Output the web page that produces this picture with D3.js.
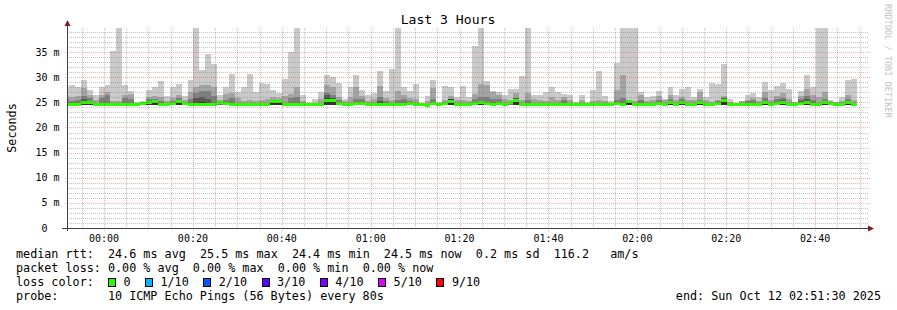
<!DOCTYPE html>
<html>
<head>
<meta charset="utf-8">
<script src="https://cdn.jsdelivr.net/npm/d3@7"></script>
<style>
  html, body { margin: 0; padding: 0; background: #fff; }
  svg text { font-family: "DejaVu Sans Mono", monospace; fill: #000; }
</style>
</head>
<body>
<div id="chart"></div>
<script>
// smokeping style "Last 3 Hours" graph, values in ms

var titleText = "Last 3 Hours";
var yAxisLabel = "Seconds";
var watermark = "RRDTOOL / TOBI OETIKER";

// time window and the 80s rrd steps
var viewStart = new Date(2025, 9, 11, 23, 51, 40);
var viewEnd   = new Date(2025, 9, 12, 2, 51, 40);
var firstStep = new Date(2025, 9, 11, 23, 50, 47);
var stepSeconds = 80;
var yMax = 39.8;
var smokeFloor = 24.4;

// median rtt per step
var medianRtt = [
  24.6, 24.6, 24.6, 25.0, 25.0, 24.6, 24.6, 24.5, 24.6, 24.6,
  24.6, 24.6, 24.6, 24.7, 24.9, 25.1, 24.6, 24.5, 24.7, 25.1,
  24.8, 24.6, 24.5, 24.6, 24.5, 24.6, 25.0, 24.7, 24.6, 24.6,
  24.6, 24.5, 24.5, 24.6, 24.6, 25.2, 25.2, 24.5, 24.6, 24.6,
  24.6, 24.5, 24.5, 24.6, 25.4, 25.4, 24.7, 24.6, 24.6, 24.8,
  24.8, 24.6, 24.6, 24.6, 24.5, 24.6, 24.6, 24.5, 24.7, 24.5,
  24.5, 24.4, 24.7, 24.6, 24.7, 25.2, 24.6, 24.5, 24.6, 24.8,
  25.0, 24.7, 24.6, 24.7, 24.6, 24.9, 25.3, 24.6, 24.6, 24.6,
  24.5, 24.5, 24.5, 24.6, 24.6, 24.6, 24.5, 24.5, 24.6, 24.6,
  24.6, 24.6, 24.6, 24.7, 24.6, 25.1, 24.6, 24.6, 24.5, 24.6,
  24.7, 24.6, 24.9, 24.5, 24.9, 24.6, 24.6, 25.0, 24.6, 24.5,
  24.7, 25.4, 24.5, 24.5, 24.5, 24.6, 24.6, 24.6, 25.0, 24.6,
  24.7, 25.0, 24.6, 24.6, 24.8, 24.9, 24.6, 24.5, 25.0, 24.7,
  24.6, 24.6, 24.9, 24.6
];

// highest ping of 10 (lightest smoke)
var maxRtt = [
  28.0, 28.5, 28.0, 29.5, 27.4, 26.5, 28.0, 28.5, 35.3, 39.8,
  28.5, 27.3, 25.1, 25.3, 27.5, 28.1, 29.3, 26.2, 28.0, 28.7,
  26.2, 29.5, 39.8, 31.4, 34.6, 32.6, 26.4, 28.0, 30.6, 27.0,
  28.1, 30.6, 27.0, 28.9, 28.7, 27.5, 26.9, 29.6, 35.1, 39.8,
  26.5, 24.9, 25.7, 27.0, 30.5, 30.0, 28.9, 25.7, 28.0, 30.4,
  27.5, 26.4, 26.9, 31.2, 27.2, 31.6, 39.8, 28.0, 27.3, 28.7,
  24.8, 26.3, 29.5, 25.1, 28.3, 28.0, 26.0, 28.3, 26.0, 36.3,
  39.8, 29.3, 27.3, 27.0, 26.4, 27.6, 27.6, 30.3, 39.8, 26.5,
  26.4, 27.0, 28.0, 27.0, 26.7, 26.4, 25.1, 26.4, 25.1, 27.5,
  31.3, 26.2, 25.3, 32.8, 39.8, 39.8, 39.8, 27.0, 26.1, 26.2,
  27.3, 25.7, 28.0, 26.5, 27.6, 28.1, 26.0, 27.6, 26.0, 28.8,
  28.7, 32.6, 25.7, 24.8, 25.0, 26.4, 26.9, 26.0, 29.1, 27.5,
  28.3, 28.8, 27.6, 24.9, 27.2, 30.4, 28.0, 39.8, 39.8, 25.4,
  25.1, 26.0, 29.5, 29.6
];

// 9th ping
var ping9 = [
  26.3, 26.0, 26.3, 27.8, 26.5, 25.5, 26.4, 27.0, 25.3, 25.3,
  26.5, 26.6, 24.9, 25.0, 26.1, 26.3, 26.0, 25.2, 25.8, 26.4,
  25.5, 27.0, 28.0, 28.5, 28.5, 28.0, 25.5, 26.6, 26.8, 25.8,
  25.3, 25.4, 25.3, 25.5, 25.6, 26.0, 25.9, 26.2, 26.7, 28.0,
  25.3, 24.9, 24.9, 25.6, 28.5, 28.0, 26.0, 25.2, 26.0, 28.0,
  26.3, 25.3, 25.6, 28.3, 25.8, 25.5, 27.3, 26.5, 25.8, 25.7,
  24.9, 25.3, 27.8, 24.9, 25.4, 26.2, 25.4, 25.5, 25.3, 26.6,
  28.7, 28.4, 27.0, 26.5, 25.6, 25.5, 26.9, 25.5, 26.9, 25.7,
  25.5, 25.3, 26.0, 25.4, 26.0, 25.5, 24.9, 25.4, 24.9, 25.2,
  25.4, 25.3, 24.9, 27.5, 30.5, 25.4, 25.3, 26.5, 25.3, 25.5,
  26.2, 25.4, 26.5, 25.5, 26.0, 25.4, 25.5, 27.0, 25.4, 25.1,
  25.5, 26.2, 25.0, 24.8, 25.2, 25.5, 25.8, 25.2, 27.0, 25.5,
  26.2, 26.9, 25.6, 25.0, 26.2, 27.6, 26.5, 26.0, 27.0, 25.2,
  25.1, 25.3, 26.5, 25.5
];

// 8th ping
var ping8 = [
  25.6, 25.3, 25.5, 26.3, 25.8, 24.7, 25.8, 26.5, 24.7, 24.7,
  25.8, 25.6, 24.7, 24.7, 25.6, 25.7, 25.3, 24.6, 25.3, 25.8,
  25.0, 25.7, 26.8, 27.3, 27.3, 26.2, 25.2, 25.5, 25.8, 24.7,
  24.7, 24.6, 24.6, 24.7, 24.7, 25.5, 25.4, 24.6, 25.8, 26.0,
  24.7, 24.6, 24.6, 24.7, 26.9, 26.5, 25.4, 24.7, 24.7, 25.7,
  25.6, 24.7, 24.7, 26.0, 25.3, 24.7, 25.5, 25.6, 25.3, 24.6,
  24.6, 24.5, 25.6, 24.7, 24.8, 25.6, 24.7, 24.6, 24.7, 25.6,
  26.0, 26.0, 25.7, 25.6, 24.7, 25.1, 25.9, 24.7, 25.5, 24.7,
  24.6, 24.6, 24.6, 24.7, 25.5, 24.7, 24.6, 24.6, 24.7, 24.7,
  24.7, 24.7, 24.7, 25.4, 25.8, 25.3, 24.7, 25.4, 24.6, 24.7,
  25.4, 24.7, 25.6, 24.6, 25.6, 24.7, 24.7, 25.5, 24.7, 24.6,
  25.2, 25.9, 24.6, 24.6, 24.6, 25.2, 25.4, 24.7, 25.8, 24.7,
  25.6, 25.8, 24.7, 24.7, 25.7, 26.2, 25.5, 24.6, 25.6, 24.8,
  24.7, 24.7, 25.6, 24.7
];

// steps where the 7th / 6th pings show: [step, ping7, ping6]
var innerSmoke = [
  [3, 25.6, 25.3], [4, 25.3, 25.2], [14, 25.3, 25.1], [15, 25.3, 25.2],
  [19, 25.4, 25.3], [22, 25.9, 24.8], [23, 26.0, 25.0], [24, 25.6, 24.8],
  [35, 25.5, 25.4], [36, 25.4, 25.3], [44, 26.4, 25.8], [45, 25.9, 25.7],
  [53, 25.3, 24.8], [65, 25.6, 25.6], [70, 25.3, 25.1], [76, 25.8, 25.7],
  [95, 25.2, 25.2], [102, 25.2, 25.0], [104, 25.2, 25.1], [107, 25.3, 25.2],
  [111, 25.8, 25.7], [118, 25.3, 25.2], [121, 25.4, 25.3], [124, 25.3, 25.0],
  [125, 25.6, 25.1], [128, 25.3, 25.2], [132, 25.2, 25.1]
];

var smokeColors = ["#cacaca", "#a4a4a4", "#7e7e7e", "#585858", "#323232"];

// legend
var statsLines = [
  "median rtt:  24.6 ms avg  25.5 ms max  24.4 ms min  24.5 ms now  0.2 ms sd  116.2   am/s",
  "packet loss: 0.00 % avg  0.00 % max  0.00 % min  0.00 % now"
];
var lossTitle = "loss color:";
var lossLabels = ["0", "1/10", "2/10", "3/10", "4/10", "5/10", "9/10"];
var lossColors = ["#26ff00", "#00b8ff", "#0059ff", "#5e00ff", "#7e00ff", "#dd00ff", "#ff0000"];
var probeTitle = "probe:";
var probeText = "10 ICMP Echo Pings (56 Bytes) every 80s";
var endText = "end: Sun Oct 12 02:51:30 2025";

var width = 897, height = 310;
var plotLeft = 67, plotRight = 867, plotTop = 28, plotBottom = 228;
var charW = 7.07;  // DejaVu Sans Mono at 11.75px

var svg = d3.select("#chart").append("svg")
  .attr("width", width)
  .attr("height", height)
  .style("display", "block")
  .style("background", "#fff");

var x = d3.scaleTime().domain([viewStart, viewEnd]).range([plotLeft, plotRight]);
var y = d3.scaleLinear().domain([0, yMax]).range([plotBottom, plotTop]);

function stepTime(j) {
  return new Date(firstStep.getTime() + j * stepSeconds * 1000);
}
function x0(j) { return Math.round(x(stepTime(j))); }
function x1(j) { return Math.round(x(stepTime(j + 1))); }
// keep runs of spaces in the monospace legend
function keepSpaces(s) { return s.replace(/ /g, "\u00a0"); }

svg.append("clipPath").attr("id", "plotClip")
  .append("rect")
  .attr("x", plotLeft).attr("y", plotTop)
  .attr("width", plotRight - plotLeft).attr("height", plotBottom - plotTop);

var plot = svg.append("g").attr("clip-path", "url(#plotClip)")
  .attr("shape-rendering", "crispEdges");

// smoke, outer pair first
[maxRtt, ping9, ping8].forEach(function(tops, b) {
  plot.append("g").selectAll("rect")
    .data(tops)
    .join("rect")
    .attr("x", function(d, j) { return x0(j); })
    .attr("width", function(d, j) { return x1(j) - x0(j); })
    .attr("y", function(d) { return Math.round(y(d)); })
    .attr("height", function(d) { return Math.max(0, Math.round(y(smokeFloor)) - Math.round(y(d))); })
    .attr("fill", smokeColors[b]);
});

[1, 2].forEach(function(k) {
  plot.append("g").selectAll("rect")
    .data(innerSmoke)
    .join("rect")
    .attr("x", function(d) { return x0(d[0]); })
    .attr("width", function(d) { return x1(d[0]) - x0(d[0]); })
    .attr("y", function(d) { return Math.round(y(d[k])); })
    .attr("height", function(d) { return Math.max(0, Math.round(y(smokeFloor)) - Math.round(y(d[k]))); })
    .attr("fill", smokeColors[k + 2]);
});

// median, drawn as a 3px band in the loss colour
plot.append("g").selectAll("rect")
  .data(medianRtt)
  .join("rect")
  .attr("x", function(d, j) { return x0(j); })
  .attr("width", function(d, j) { return x1(j) - x0(j); })
  .attr("y", function(d) { return Math.round(y(d) - 1.5); })
  .attr("height", 3)
  .attr("fill", lossColors[0]);

// grid on top, dotted like rrdtool
var grid = svg.append("g").attr("shape-rendering", "crispEdges");
var minorY = y.ticks(40), majorY = y.ticks(8);
var minorX = x.ticks(d3.timeMinute.every(5)), majorX = x.ticks(d3.timeMinute.every(20));
var minorCol = "rgba(110,110,110,0.4)", majorCol = "rgba(255,0,0,0.32)";

grid.selectAll(".hmin").data(minorY.filter(function(v) { return v > 0 && v % 5 !== 0; }))
  .join("line").attr("class", "hmin")
  .attr("x1", plotLeft).attr("x2", plotRight + 1)
  .attr("y1", function(d) { return Math.round(y(d)) + 0.5; })
  .attr("y2", function(d) { return Math.round(y(d)) + 0.5; })
  .attr("stroke", minorCol).attr("stroke-dasharray", "1,1");

grid.selectAll(".vmin").data(minorX.filter(function(d) { return d.getMinutes() % 20 !== 0; }))
  .join("line").attr("class", "vmin")
  .attr("x1", function(d) { return Math.round(x(d)) + 0.5; })
  .attr("x2", function(d) { return Math.round(x(d)) + 0.5; })
  .attr("y1", plotTop).attr("y2", plotBottom)
  .attr("stroke", minorCol).attr("stroke-dasharray", "1,1");

grid.selectAll(".hmaj").data(majorY.filter(function(v) { return v > 0; }))
  .join("line").attr("class", "hmaj")
  .attr("x1", plotLeft - 2).attr("x2", plotRight + 3)
  .attr("y1", function(d) { return Math.round(y(d)) + 0.5; })
  .attr("y2", function(d) { return Math.round(y(d)) + 0.5; })
  .attr("stroke", majorCol).attr("stroke-dasharray", "1,1");

grid.selectAll(".vmaj").data(majorX)
  .join("line").attr("class", "vmaj")
  .attr("x1", function(d) { return Math.round(x(d)) + 0.5; })
  .attr("x2", function(d) { return Math.round(x(d)) + 0.5; })
  .attr("y1", plotTop).attr("y2", plotBottom + 3)
  .attr("stroke", majorCol).attr("stroke-dasharray", "1,1");

// axes with arrows
var axisCol = "#404040", arrowCol = "#7f1d1d";
svg.append("line")
  .attr("x1", plotLeft + 0.5).attr("x2", plotLeft + 0.5)
  .attr("y1", plotBottom + 3).attr("y2", 23)
  .attr("stroke", axisCol).attr("shape-rendering", "crispEdges");
svg.append("line")
  .attr("x1", plotLeft - 5).attr("x2", plotRight + 2)
  .attr("y1", plotBottom + 0.5).attr("y2", plotBottom + 0.5)
  .attr("stroke", axisCol).attr("shape-rendering", "crispEdges");
svg.append("path")
  .attr("d", "M" + (plotLeft - 2.5) + ",26 L" + (plotLeft + 3.5) + ",26 L" + (plotLeft + 0.5) + ",20 Z")
  .attr("fill", arrowCol);
svg.append("path")
  .attr("d", "M" + (plotRight + 1) + "," + (plotBottom - 2.5) + " L" + (plotRight + 1) + "," + (plotBottom + 3.5) + " L" + (plotRight + 7) + "," + (plotBottom + 0.5) + " Z")
  .attr("fill", arrowCol);

// y tick labels: number, then unit
var yLab = svg.append("g").style("font-size", "10px");
yLab.selectAll(".num").data(majorY)
  .join("text").attr("class", "num")
  .attr("x", 47.6)
  .attr("y", function(d) { return y(d) + 3.6; })
  .attr("text-anchor", "end")
  .text(function(d) { return d; });
yLab.selectAll(".unit").data(majorY.filter(function(v) { return v > 0; }))
  .join("text").attr("class", "unit")
  .attr("x", 53.6)
  .attr("y", function(d) { return y(d) + 3.6; })
  .text("m");

// x tick labels
svg.append("g").style("font-size", "10px")
  .selectAll("text").data(majorX)
  .join("text")
  .attr("x", function(d) { return x(d); })
  .attr("y", 241.5)
  .attr("text-anchor", "middle")
  .text(d3.timeFormat("%H:%M"));

// title and side labels
svg.append("text")
  .attr("x", 448).attr("y", 24)
  .attr("text-anchor", "middle")
  .style("font-size", "13.1px")
  .text(titleText);

svg.append("text")
  .attr("transform", "translate(16," + (plotTop + plotBottom) / 2 + ") rotate(-90)")
  .attr("text-anchor", "middle")
  .style("font-size", "11.75px")
  .text(yAxisLabel);

svg.append("text")
  .attr("transform", "translate(885,4) rotate(90)")
  .style("font-size", "8.6px")
  .style("fill", "#c4c4c4")
  .text(watermark);

// legend block
var legend = svg.append("g").style("font-size", "11.75px");

var lineY = [258, 272, 286, 300];
statsLines.forEach(function(s, i) {
  legend.append("text").attr("x", 16).attr("y", lineY[i]).text(keepSpaces(s));
});

legend.append("text").attr("x", 16).attr("y", lineY[2]).text(lossTitle);
var sqX = 16 + 13 * charW;
lossLabels.forEach(function(lab, i) {
  legend.append("rect")
    .attr("x", Math.round(sqX) + 0.5).attr("y", 278.5)
    .attr("width", 7).attr("height", 8)
    .attr("fill", lossColors[i])
    .attr("stroke", "#000").attr("stroke-width", 1)
    .attr("shape-rendering", "crispEdges");
  legend.append("text").attr("x", sqX + 15.5).attr("y", lineY[2]).text(lab);
  sqX += 15.5 + lab.length * charW + 14.5;
});

legend.append("text").attr("x", 16).attr("y", lineY[3]).text(probeTitle);
legend.append("text").attr("x", 16 + 13 * charW).attr("y", lineY[3]).text(keepSpaces(probeText));
legend.append("text").attr("x", 881).attr("y", lineY[3])
  .attr("text-anchor", "end").text(keepSpaces(endText));
</script>
</body>
</html>
